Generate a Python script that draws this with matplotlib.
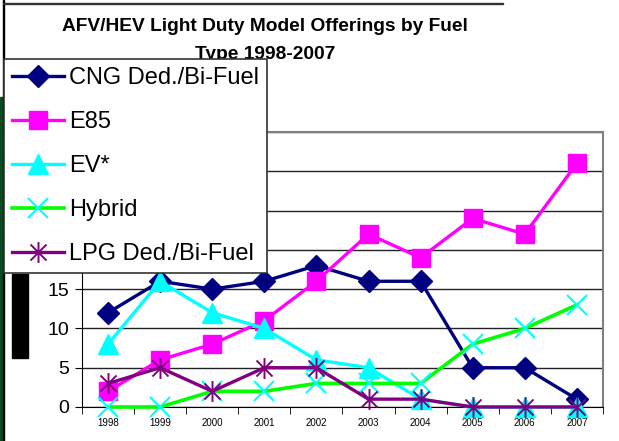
import matplotlib.pyplot as plt
from matplotlib.path import Path
from matplotlib.patches import Rectangle

# data
years = ["1998", "1999", "2000", "2001", "2002", "2003", "2004", "2005", "2006", "2007"]
cng = [12, 16, 15, 16, 18, 16, 16, 5, 5, 1]
e85 = [2, 6, 8, 11, 16, 22, 19, 24, 22, 31]
ev = [8, 16, 12, 10, 6, 5, 1, 0, 0, 0]
hybrid = [0, 0, 2, 2, 3, 3, 3, 8, 10, 13]
lpg = [3, 5, 2, 5, 5, 1, 1, 0, 0, 0]
labels = ["CNG Ded./Bi-Fuel", "E85", "EV*", "Hybrid", "LPG Ded./Bi-Fuel"]

plt.rcParams['font.family'] = ['Liberation Sans', 'DejaVu Sans']

# Excel style "star" marker: an X with a vertical bar through it
star = Path([(-1, -1), (1, 1), (-1, 1), (1, -1), (0, -1.3), (0, 1.3)],
            [Path.MOVETO, Path.LINETO, Path.MOVETO, Path.LINETO, Path.MOVETO, Path.LINETO])

fig = plt.figure(figsize=(6.19, 4.41), dpi=100)
ax = fig.add_axes([0.1325, 0.0771, 0.974 - 0.1325, 0.7007 - 0.0771])

x = list(range(len(years)))
lines = []
lines += ax.plot(x, cng, color='#000080', lw=2.4, marker='D', ms=11, clip_on=False, zorder=3)
lines += ax.plot(x, e85, color='#FF00FF', lw=2.4, marker='s', ms=13, clip_on=False, zorder=3)
lines += ax.plot(x, ev, color='#00FFFF', lw=2.4, marker='^', ms=14, clip_on=False, zorder=3)
lines += ax.plot(x, hybrid, color='#00FF00', lw=2.6, marker='x', ms=14, mec='#00FFFF', mew=1.5,
                 clip_on=False, zorder=3)
lines += ax.plot(x, lpg, color='#800080', lw=2.4, marker=star, ms=15, mec='#800080', mew=1.4,
                 clip_on=False, zorder=3)

ax.set_xlim(-0.5, 9.5)
ax.set_ylim(0, 35)
ax.set_yticks([0, 5, 10, 15, 20, 25, 30, 35])
ax.set_yticklabels(["0", "5", "10", "15", "20", "25", "30", ""], fontsize=14)
ax.set_xticks(x)
ax.set_xticklabels(years, fontsize=7)
ax.set_xticks([i - 0.5 for i in range(11)], minor=True)
ax.tick_params(axis='x', which='major', length=0, pad=8)
ax.tick_params(axis='x', which='minor', length=5, direction='out', color='black')
ax.tick_params(axis='y', length=5, direction='out', color='black', pad=4)
ax.grid(axis='y', color='#222222', lw=1)
ax.set_axisbelow(True)
for side in ['top', 'right']:
    ax.spines[side].set_color('#808080')
    ax.spines[side].set_linewidth(1.5)
ax.spines['left'].set_color('black')
ax.spines['bottom'].set_color('black')

fig.text(265 / 619, 1 - 18 / 441, "AFV/HEV Light Duty Model Offerings by Fuel\nType 1998-2007",
         ha='center', va='top', fontsize=13.8, fontweight='bold', linespacing=1.85)

# slide artifacts around the chart
fig.patches.append(Rectangle((0, 0), 3 / 619, 1 - 97 / 441, transform=fig.transFigure,
                             color='#0b4d22', zorder=0))
fig.patches.append(Rectangle((3 / 619, 0), 1.2 / 619, 1, transform=fig.transFigure,
                             color='black', zorder=0))
fig.patches.append(Rectangle((3 / 619, 1 - 4 / 441), 500 / 619, 1 / 441, transform=fig.transFigure,
                             color='#333333', zorder=0))
fig.patches.append(Rectangle((12 / 619, 1 - 358 / 441), 16 / 619, 84 / 441,
                             transform=fig.transFigure, color='black', zorder=0))

leg = fig.legend(lines, labels, loc='upper left', bbox_to_anchor=(4 / 619, 1 - 59 / 441),
                 bbox_transform=fig.transFigure, borderaxespad=0, fontsize=17,
                 frameon=True, fancybox=False, edgecolor='#333333', framealpha=1,
                 handlelength=2.2, handletextpad=0.2, labelspacing=0.93,
                 borderpad=0.35)
leg.get_frame().set_linewidth(1.2)

fig.savefig("out.png", dpi=100)
